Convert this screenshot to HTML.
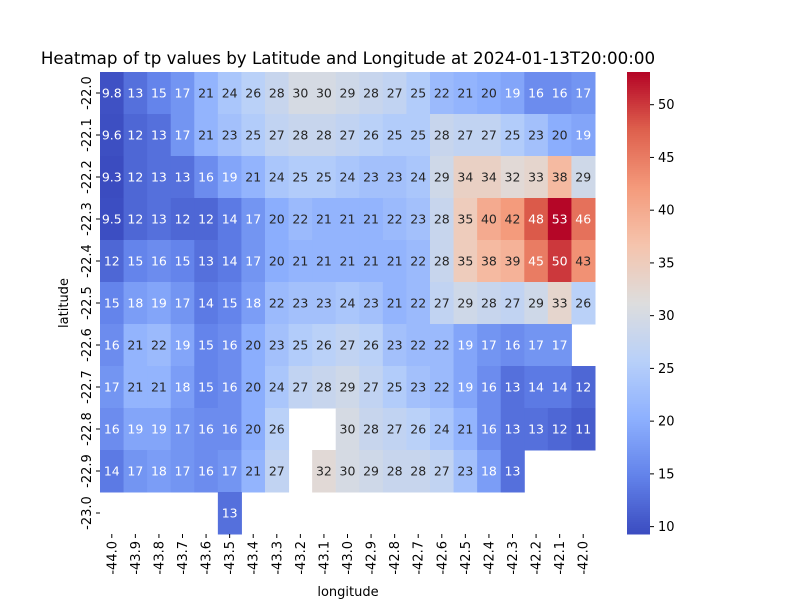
<!DOCTYPE html>
<html><head><meta charset="utf-8"><style>
body{margin:0;background:#fff;}
svg{font-family:"DejaVu Sans","Liberation Sans",sans-serif;}
</style></head><body>
<svg id="chart" width="800" height="600" xmlns="http://www.w3.org/2000/svg">
<text x="348" y="64" font-size="16.7" text-anchor="middle">Heatmap of tp values by Latitude and Longitude at 2024-01-13T20:00:00</text>
<text x="348" y="596" font-size="13" text-anchor="middle">longitude</text>
<text x="68" y="303" font-size="13" text-anchor="middle" transform="rotate(-90 68 303)">latitude</text>
<g id="cells"></g><g id="xt"></g><g id="yt"></g><g id="cb"></g>
</svg>
<script>
const lons=["-44.0","-43.9","-43.8","-43.7","-43.6","-43.5","-43.4","-43.3","-43.2","-43.1","-43.0","-42.9","-42.8","-42.7","-42.6","-42.5","-42.4","-42.3","-42.2","-42.1","-42.0"];
const lats=["-22.0","-22.1","-22.2","-22.3","-22.4","-22.5","-22.6","-22.7","-22.8","-22.9","-23.0"];
const r0=[9.8,13,15,17,21,24,26,28,30,30,29,28,27,25,22,21,20,19,16,16,17];
const r1=[9.6,12,13,17,21,23,25,27,28,28,27,26,25,25,28,27,27,25,23,20,19];
const r2=[9.3,12,13,13,16,19,21,24,25,25,24,23,23,24,29,34,34,32,33,38,29];
const r3=[9.5,12,13,12,12,14,17,20,22,21,21,21,22,23,28,35,40,42,48,53,46];
const r4=[12,15,16,15,13,14,17,20,21,21,21,21,21,22,28,35,38,39,45,50,43];
const r5=[15,18,19,17,14,15,18,22,23,23,24,23,21,22,27,29,28,27,29,33,26];
const r6=[16,21,22,19,15,16,20,23,25,26,27,26,23,22,22,19,17,16,17,17,null];
const r7=[17,21,21,18,15,16,20,24,27,28,29,27,25,23,22,19,16,13,14,14,12];
const r8=[16,19,19,17,16,16,20,26,null,null,30,28,27,26,24,21,16,13,13,12,11];
const r9=[14,17,18,17,16,17,21,27,null,32,30,29,28,28,27,23,18,13,null,null,null];
const r10=[null,null,null,null,null,13,null,null,null,null,null,null,null,null,null,null,null,null,null,null,null];
const rows=[r0,r1,r2,r3,r4,r5,r6,r7,r8,r9,r10];
const cbTicks=[10,15,20,25,30,35,40,45,50];
const vmin=9.3,vmax=53.1;
const X0=100,X1=595,Y0=72,Y1=534;
const cw=(X1-X0)/lons.length, ch=(Y1-Y0)/lats.length;
const xPos=i=>X0+i*cw, yPos=j=>Y0+j*ch;
const stops=[[59,76,192],[98,130,234],[141,176,254],[184,208,249],[221,221,221],[245,196,173],[244,154,123],[222,96,77],[180,4,38]];
function cmap(v){let t=Math.max(0,Math.min(1,(v-vmin)/(vmax-vmin)))*8;let i=Math.min(7,Math.floor(t)),f=t-i;
const a=stops[i],b=stops[i+1];return `rgb(${a.map((c,k)=>Math.round(c+(b[k]-c)*f)).join(',')})`;}
const NS="http://www.w3.org/2000/svg";
function mk(tag,at,parent){const e=document.createElementNS(NS,tag);for(const k in at)e.setAttribute(k,at[k]);parent.appendChild(e);return e;}
const cells=document.getElementById('cells');
rows.forEach((row,j)=>row.forEach((v,i)=>{if(v===null)return;
 const r=mk('rect',{x:xPos(i),y:yPos(j),width:cw+0.5,height:ch+0.5,fill:cmap(v)},cells);
 
 
 const t=mk('text',{x:xPos(i)+cw/2,y:yPos(j)+ch/2+4.5,'font-size':12.5,'text-anchor':'middle',fill:(v<19.5||v>44)?'#fff':'#262626'},cells);
 t.textContent=String(v);
 
 
}));
const xt=document.getElementById('xt');
lons.forEach((l,i)=>{const x=xPos(i)+cw/2;
 mk('line',{x1:x,x2:x,y1:Y1,y2:Y1+4,stroke:'#000'},xt);
 const t=mk('text',{x:x+4.5,y:Y1+7,'font-size':13,'text-anchor':'end',transform:`rotate(-90 ${x+4.5} ${Y1+7})`},xt);
 t.textContent=l;
 
 
});
const yt=document.getElementById('yt');
lats.forEach((l,j)=>{const y=yPos(j)+ch/2;
 mk('line',{x1:X0-4,x2:X0,y1:y,y2:y,stroke:'#000'},yt);
 const t=mk('text',{x:X0-9,y:y,'font-size':13,'text-anchor':'middle',transform:`rotate(-90 ${X0-9} ${y})`},yt);
 t.textContent=l;
 
 
});
const cb=document.getElementById('cb');
const CX=627,CW=23;
const cbY=v=>Y1-(v-vmin)/(vmax-vmin)*(Y1-Y0);
for(let k=0;k<231;k++){const y=Y0+k*2;const v=vmax-(k*2+1)/(Y1-Y0)*(vmax-vmin);
 mk('rect',{x:CX,y:y,width:CW,height:2.5,fill:cmap(v)},cb);}


cbTicks.forEach(v=>{const y=cbY(v);
 mk('line',{x1:CX+CW,x2:CX+CW+4,y1:y,y2:y,stroke:'#000'},cb);
 const t=mk('text',{x:CX+CW+8,y:y+4.5,'font-size':13},cb);
 t.textContent=v;
 
 
});
</script>
</body></html>
